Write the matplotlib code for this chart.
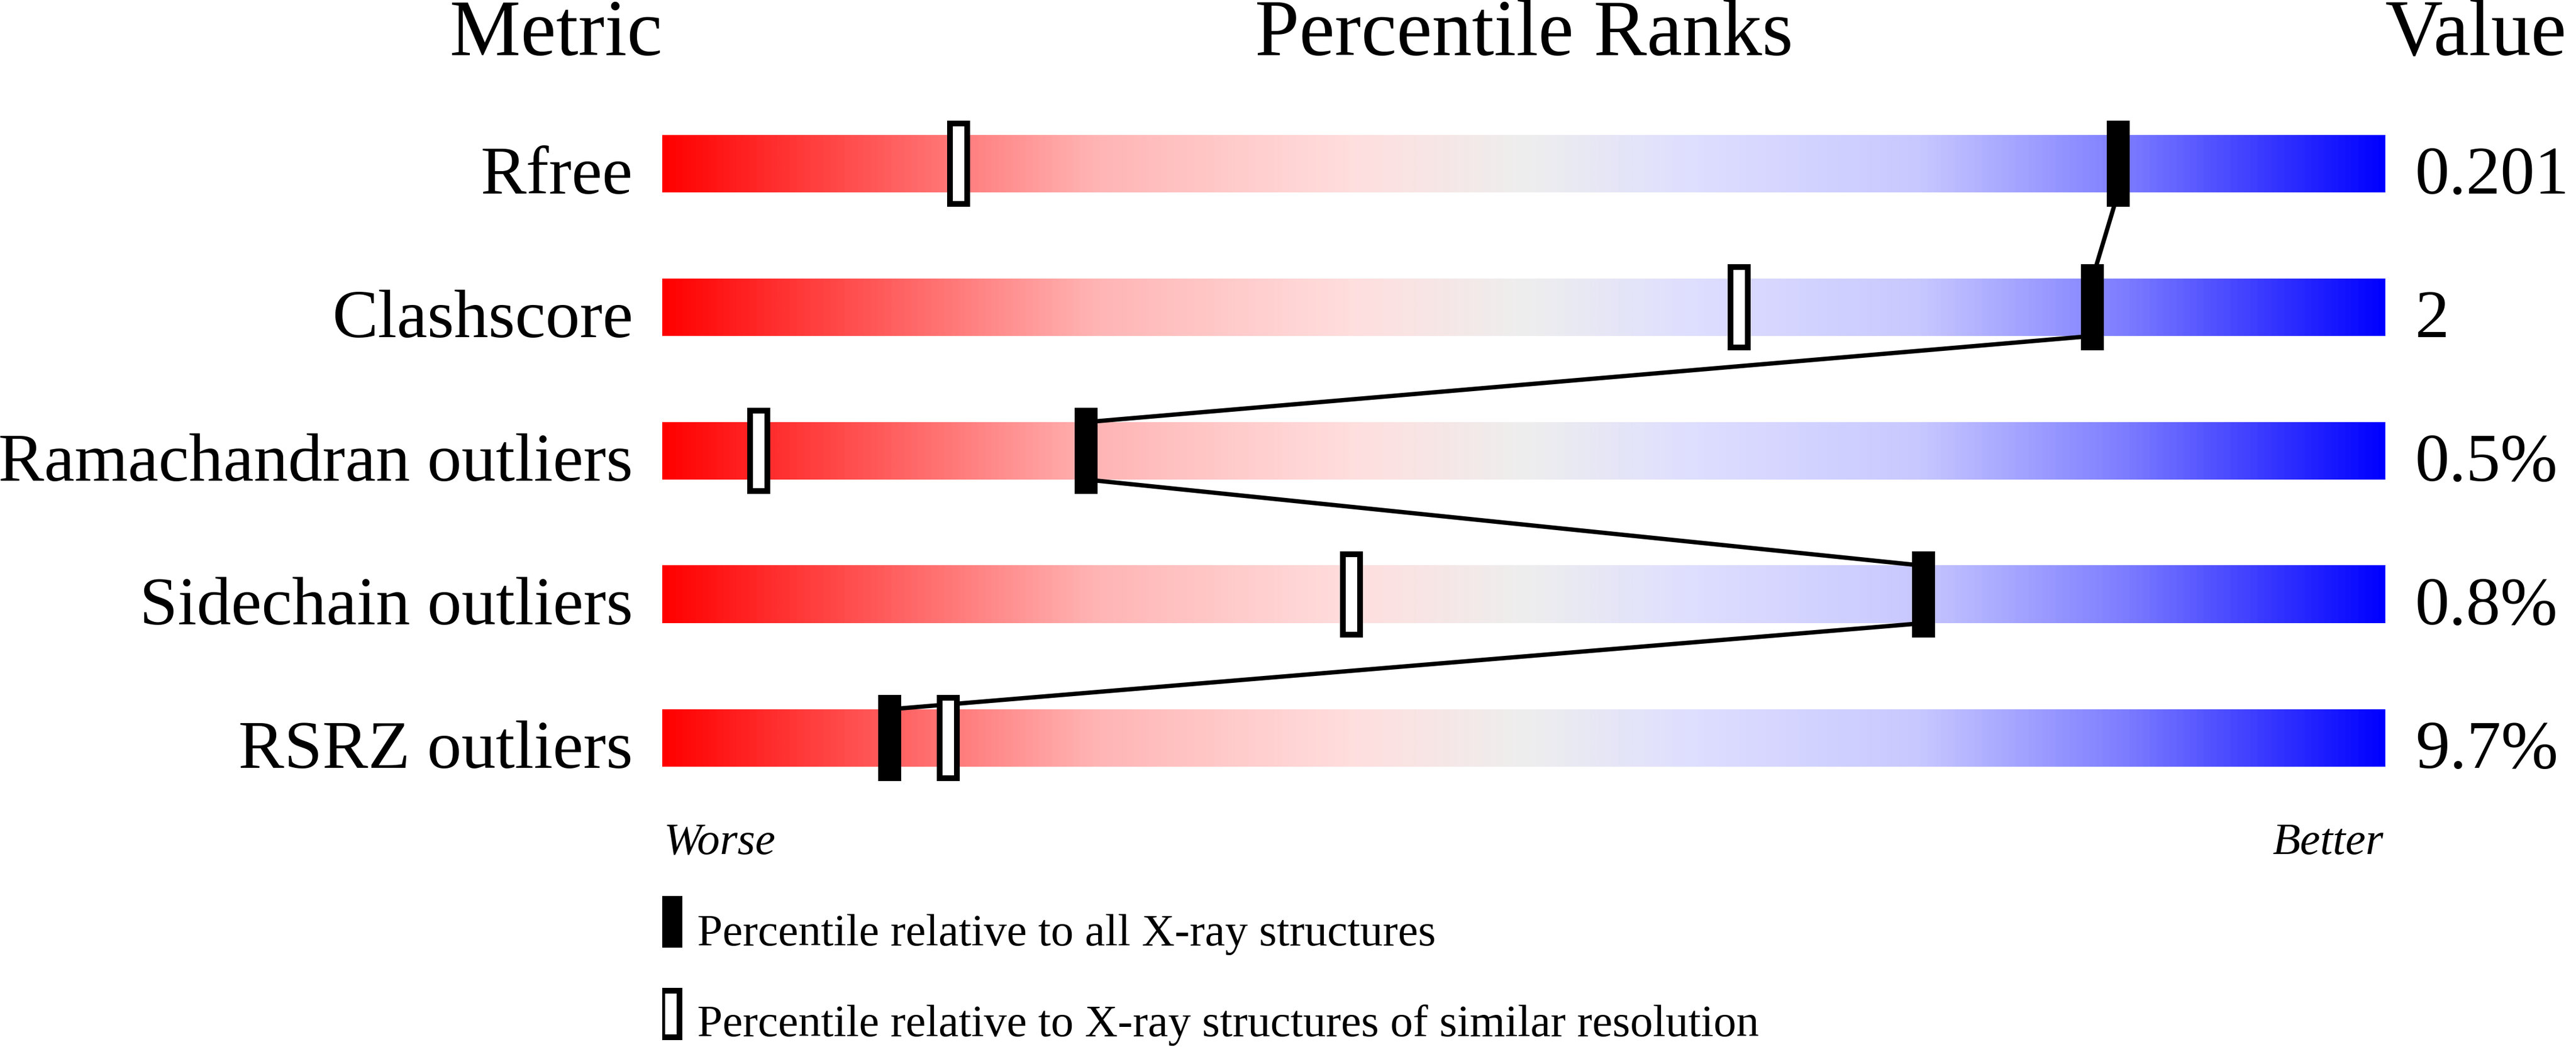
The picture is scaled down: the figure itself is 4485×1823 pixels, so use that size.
import numpy as np
import matplotlib
matplotlib.use("Agg")
import matplotlib.pyplot as plt
from matplotlib.colors import LinearSegmentedColormap
from matplotlib.patches import Rectangle

# data
metrics = ["Rfree", "Clashscore", "Ramachandran outliers", "Sidechain outliers", "RSRZ outliers"]
values = ["0.201", "2", "0.5%", "0.8%", "9.7%"]
pct_all = [84.5, 83.0, 24.6, 73.2, 13.2]        # percentile vs all X-ray structures
pct_similar = [17.2, 62.5, 5.6, 40.0, 16.6]     # percentile vs similar resolution
legend_labels = ["Percentile relative to all X-ray structures",
                 "Percentile relative to X-ray structures of similar resolution"]

FONT = ["Liberation Serif", "DejaVu Serif"]
plt.rcParams["font.family"] = FONT

cmap = LinearSegmentedColormap.from_list("slider", [
    (0.00, (1.0, 0.0, 0.0)),
    (0.25, (1.0, 180/255, 180/255)),
    (0.40, (1.0, 222/255, 222/255)),
    (0.50, (238/255, 238/255, 238/255)),
    (0.60, (222/255, 222/255, 1.0)),
    (0.73, (200/255, 200/255, 1.0)),
    (0.85, (125/255, 125/255, 1.0)),
    (1.00, (0.0, 0.0, 1.0)),
])

W, H = 4485, 1824
fig = plt.figure(figsize=(W / 100, H / 100), dpi=100)
ax = fig.add_axes([1153 / W, 0, 3000 / W, 1])

grad = np.linspace(0, 1, 1024).reshape(1, -1)
bar_h = 0.4
for i, name in enumerate(metrics):
    ax.imshow(grad, cmap=cmap, extent=(0, 100, i + bar_h / 2, i - bar_h / 2),
              aspect="auto", interpolation="bilinear", zorder=1)
    ax.text(-1.7, i + 0.204, name, ha="right", va="baseline", fontsize=86, family=FONT)
    ax.text(101.73, i + 0.204, values[i], ha="left", va="baseline", fontsize=86, family=FONT)

# connecting line between the "all structures" markers
for i in range(len(metrics) - 1):
    ax.plot([pct_all[i], pct_all[i + 1]], [i + bar_h / 2, i + 1 - bar_h / 2],
            color="black", lw=5.4, solid_capstyle="butt", zorder=3)

for i in range(len(metrics)):
    ax.add_patch(Rectangle((pct_all[i] - 0.667, i - 0.3), 1.333, 0.6,
                           facecolor="black", edgecolor="none", zorder=4))
    ax.add_patch(Rectangle((pct_similar[i] - 0.5, i - 0.28), 1.0, 0.56,
                           facecolor="white", edgecolor="black", lw=7.2, zorder=4))

# headers
hy = -0.76
ax.text(0, hy, "Metric", ha="right", va="baseline", fontsize=100, family=FONT)
ax.text(50, hy, "Percentile Ranks", ha="center", va="baseline", fontsize=100, family=FONT)
ax.text(100, hy, "Value", ha="left", va="baseline", fontsize=100, family=FONT)

ax.text(0.1, 4.804, "Worse", ha="left", va="baseline", fontsize=57, style="italic", family=FONT)
ax.text(99.9, 4.804, "Better", ha="right", va="baseline", fontsize=57, style="italic", family=FONT)

# legend
ax.add_patch(Rectangle((-0.167, 5.1), 1.333, 0.36, facecolor="black", edgecolor="none"))
ax.add_patch(Rectangle((0.0, 5.76), 1.0, 0.324, facecolor="white", edgecolor="black", lw=7.2))
ax.text(2.03, 5.44, legend_labels[0], ha="left", va="baseline", fontsize=57, family=FONT)
ax.text(2.03, 6.072, legend_labels[1], ha="left", va="baseline", fontsize=57, family=FONT)

ax.set_xlim(0, 100)
ax.set_ylim((H - 286) / 250, -286 / 250)
ax.axis("off")

fig.savefig("out.png", dpi=100, facecolor="white")
